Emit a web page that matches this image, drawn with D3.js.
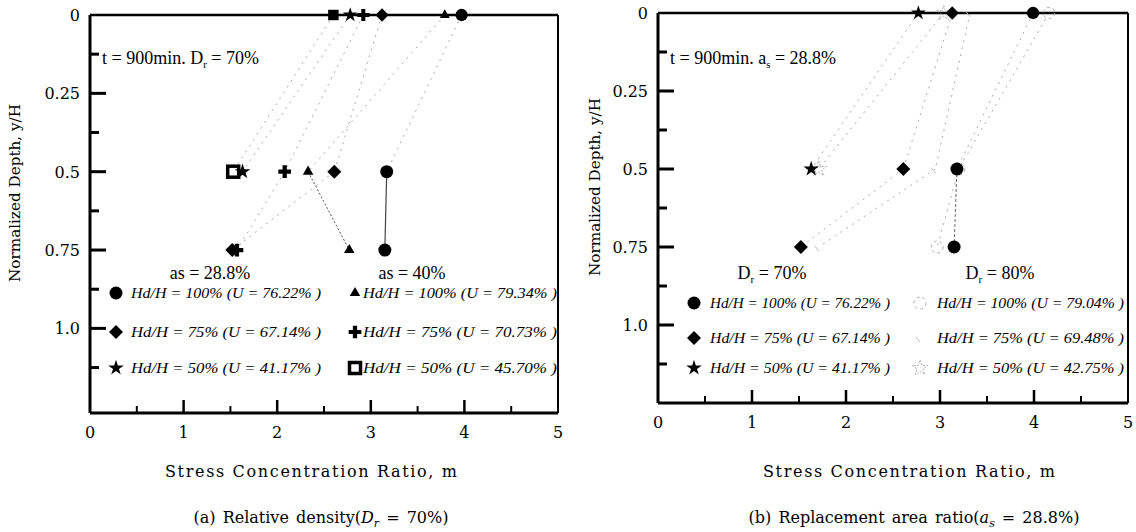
<!DOCTYPE html>
<html><head><meta charset="utf-8">
<script src="https://cdn.jsdelivr.net/npm/d3@7"></script>
<style>
html,body{margin:0;padding:0;background:#fff;}
svg{display:block;}
</style></head>
<body>
<svg id="chart" width="1136" height="532"></svg>
<script>
// ---------- data ----------
const depths = [0, 0.5, 0.75];
const xTicks = [0, 1, 2, 3, 4, 5];
const xMinorTicks = [0.5, 1.5, 2.5, 3.5, 4.5];
const yTicks = [0, 0.25, 0.5, 0.75, 1.0];
const yTickLabels = ["0", "0.25", "0.5", "0.75", "1.0"];
const yMinorTicks = [0.125, 0.375, 0.625, 0.875, 1.125];

// panel (a): Dr = 70%
const aCircle   = [3.97, 3.17, 3.15];   // as=28.8%, Hd/H=100%
const aDiamond  = [3.12, 2.61, 1.52];   // as=28.8%, Hd/H=75%
const aStar     = [2.78, 1.63];         // as=28.8%, Hd/H=50%
const aTriangle = [3.79, 2.33, 2.77];   // as=40%, Hd/H=100%
const aPlus     = [2.92, 2.08, 1.57];   // as=40%, Hd/H=75%
const aSquare   = [2.60, 1.53];         // as=40%, Hd/H=50%

// panel (b): as = 28.8%
const bCircle70  = [3.99, 3.18, 3.15];
const bDiamond70 = [3.13, 2.61, 1.52];
const bStar70    = [2.77, 1.63];
const bCircle80  = [4.16, 3.20, 2.97];
const bDiamond80 = [3.32, 2.95, 1.71];
const bStar80    = [3.04, 1.71];

const aLegend1 = ["Hd/H = 100% (U = 76.22% )", "Hd/H = 75% (U = 67.14% )", "Hd/H = 50% (U = 41.17% )"];
const aLegend2 = ["Hd/H = 100% (U = 79.34% )", "Hd/H = 75% (U = 70.73% )", "Hd/H = 50% (U = 45.70% )"];
const bLegend1 = ["Hd/H = 100% (U = 76.22% )", "Hd/H = 75% (U = 67.14% )", "Hd/H = 50% (U = 41.17% )"];
const bLegend2 = ["Hd/H = 100% (U = 79.04% )", "Hd/H = 75% (U = 69.48% )", "Hd/H = 50% (U = 42.75% )"];

const svg = d3.select("#chart");
const SERIF = "'DejaVu Serif', 'Liberation Serif', serif";
const TIMES = "'Liberation Serif', 'DejaVu Serif', serif";

// ---------- marker drawing ----------
function marker(g, type, x, y, s) {
  s = s || 1;
  if (type === "circle") {
    g.append("circle").attr("cx", x).attr("cy", y).attr("r", 6.5*s).attr("fill", "#000");
  } else if (type === "diamond") {
    const r = 7*s;
    g.append("path").attr("d", `M${x},${y-r}L${x+r},${y}L${x},${y+r}L${x-r},${y}Z`).attr("fill", "#000");
  } else if (type === "star") {
    g.append("path").attr("d", d3.symbol(d3.symbolStar, 75*s*s)()).attr("transform", `translate(${x},${y})`).attr("fill", "#000");
  } else if (type === "triangle") {
    g.append("path").attr("d", d3.symbol(d3.symbolTriangle, 48*s*s)()).attr("transform", `translate(${x},${y})`).attr("fill", "#000");
  } else if (type === "plus") {
    g.append("path").attr("d", d3.symbol(d3.symbolCross, 90*s*s)()).attr("transform", `translate(${x},${y})`).attr("fill", "#000");
  } else if (type === "square") {
    const r = 5.5*s;
    g.append("rect").attr("x", x-r).attr("y", y-r).attr("width", 2*r).attr("height", 2*r).attr("fill", "#fff").attr("stroke", "#000").attr("stroke-width", 3.5*s);
  } else if (type === "squareFilled") {
    const r = 5.5*s;
    g.append("rect").attr("x", x-r).attr("y", y-r).attr("width", 2*r).attr("height", 2*r).attr("fill", "#000");
  } else if (type === "circleOpen") {
    g.append("circle").attr("cx", x).attr("cy", y).attr("r", 6*s).attr("fill", "none").attr("stroke", "#aaa").attr("stroke-width", 1).attr("stroke-dasharray", "3,3");
  } else if (type === "diamondFaint") {
    const r = 4*s;
    g.append("path").attr("d", `M${x-r},${y-r*0.3}L${x},${y+r}`).attr("fill", "none").attr("stroke", "#bbb").attr("stroke-width", 1);
  } else if (type === "starOpen") {
    g.append("path").attr("d", d3.symbol(d3.symbolStar, 75*s*s)()).attr("transform", `translate(${x},${y})`).attr("fill", "none").attr("stroke", "#999").attr("stroke-width", 0.8).attr("stroke-dasharray", "2,1.5");
  }
}

// ---------- panel ----------
function panel(cfg) {
  const x = d3.scaleLinear().domain([0, 5]).range([cfg.left, cfg.right]);
  const y = d3.scaleLinear().domain([0, cfg.ymax]).range([cfg.top, cfg.bottom]);
  const g = svg.append("g");

  // lines
  const line = d3.line().x(d => x(d[0])).y(d => y(d[1]));
  cfg.series.forEach(s => {
    const pts = s.values.map((v, i) => [v, depths[i]]);
    for (let i = 0; i < pts.length - 1; i++) {
      const st = (s.segStyles && s.segStyles[i]) || {c: "#aaa", w: 1, d: "2,5"};
      g.append("path").attr("d", line([pts[i], pts[i+1]]))
        .attr("fill", "none").attr("stroke", st.c).attr("stroke-width", st.w)
        .attr("stroke-dasharray", st.d);
    }
  });

  // frame
  g.append("line").attr("x1", cfg.left).attr("x2", cfg.right).attr("y1", cfg.top).attr("y2", cfg.top).attr("stroke", "#000").attr("stroke-width", 2.5);
  g.append("line").attr("x1", cfg.right).attr("x2", cfg.right).attr("y1", cfg.top).attr("y2", cfg.bottom).attr("stroke", "#000").attr("stroke-width", 2);
  g.append("line").attr("x1", cfg.left).attr("x2", cfg.right).attr("y1", cfg.bottom).attr("y2", cfg.bottom).attr("stroke", "#000").attr("stroke-width", 3);
  g.append("line").attr("x1", cfg.left).attr("x2", cfg.left).attr("y1", cfg.top).attr("y2", cfg.bottom).attr("stroke", "#000").attr("stroke-width", 3);

  // y ticks (inside)
  yTicks.forEach((t, i) => {
    if (t > 0) g.append("line").attr("x1", cfg.left).attr("x2", cfg.left + 16).attr("y1", y(t)).attr("y2", y(t)).attr("stroke", "#000").attr("stroke-width", 3);
    g.append("text").attr("x", cfg.left - 10).attr("y", y(t) + 6).attr("text-anchor", "end").attr("font-size", 16).attr("font-family", SERIF).text(yTickLabels[i]);
  });
  yMinorTicks.forEach(t => {
    g.append("line").attr("x1", cfg.left).attr("x2", cfg.left + 9).attr("y1", y(t)).attr("y2", y(t)).attr("stroke", "#000").attr("stroke-width", 3);
  });
  // x ticks (inside)
  xTicks.forEach(t => {
    if (t > 0 && t < 5) g.append("line").attr("x1", x(t)).attr("x2", x(t)).attr("y1", cfg.bottom).attr("y2", cfg.bottom - 13).attr("stroke", "#000").attr("stroke-width", 2.5);
    g.append("text").attr("x", x(t)).attr("y", cfg.bottom + 25).attr("text-anchor", "middle").attr("font-size", 16).attr("font-family", SERIF).text(t);
  });
  xMinorTicks.forEach(t => {
    g.append("line").attr("x1", x(t)).attr("x2", x(t)).attr("y1", cfg.bottom).attr("y2", cfg.bottom - 7).attr("stroke", "#000").attr("stroke-width", 2);
  });

  // markers
  cfg.series.forEach(s => {
    s.values.forEach((v, i) => marker(g, (i === 0 && s.topType) ? s.topType : s.type, x(v), y(depths[i]), i === 0 ? 0.95 : 1));
  });

  // annotation
  const ann = g.append("text").attr("x", cfg.left + 12).attr("y", 64).attr("font-size", 18).attr("font-family", TIMES);
  cfg.annot(ann);

  // group labels
  g.append("text").attr("x", cfg.grp1x).attr("y", 279).attr("text-anchor", "middle").attr("font-size", 18).attr("font-family", TIMES).call(cfg.grpLabel1);
  g.append("text").attr("x", cfg.grp2x).attr("y", 279).attr("text-anchor", "middle").attr("font-size", 18).attr("font-family", TIMES).call(cfg.grpLabel2);

  // legend
  cfg.legRows.forEach((ry, i) => {
    marker(g, cfg.leg1Types[i], cfg.leg1mx, ry, 1);
    g.append("text").attr("x", cfg.leg1tx).attr("y", ry + 5).attr("font-size", 15).attr("font-style", "italic").attr("font-family", TIMES)
      .attr("textLength", cfg.legW1).attr("lengthAdjust", "spacingAndGlyphs").text(cfg.leg1[i]);
    marker(g, cfg.leg2Types[i], cfg.leg2mx, ry, 1);
    g.append("text").attr("x", cfg.leg2tx).attr("y", ry + 5).attr("font-size", 15).attr("font-style", "italic").attr("font-family", TIMES)
      .attr("textLength", cfg.legW2).attr("lengthAdjust", "spacingAndGlyphs").text(cfg.leg2[i]);
  });

  // axis titles
  g.append("text").attr("x", cfg.titleX).attr("y", 477).attr("text-anchor", "middle").attr("font-size", 16).attr("font-family", SERIF)
    .attr("textLength", 292).attr("lengthAdjust", "spacing").text("Stress Concentration Ratio, m");
  g.append("text").attr("transform", `translate(${cfg.ylabX},${cfg.ylabY}) rotate(-90)`).attr("text-anchor", "middle").attr("font-size", 15).attr("font-family", SERIF)
    .attr("textLength", 178).attr("lengthAdjust", "spacingAndGlyphs").text("Normalized Depth, y/H");
  const cap = g.append("text").attr("x", cfg.capX).attr("y", 523).attr("text-anchor", "middle").attr("font-size", 16).attr("font-family", SERIF)
    .attr("word-spacing", 2);
  cfg.caption(cap);
}

const sub = (sel, txt, italic) => sel.append("tspan").attr("dy", 4).attr("font-size", 11).attr("font-style", italic ? "italic" : null).text(txt);
const after = (sel, txt) => sel.append("tspan").attr("dy", -4).text(txt);

panel({
  left: 90, right: 558, top: 15, bottom: 413, ymax: 1.27,
  series: [
    {type: "square", topType: "squareFilled", values: aSquare},
    {type: "star", values: aStar},
    {type: "plus", values: aPlus},
    {type: "diamond", values: aDiamond},
    {type: "triangle", values: aTriangle, segStyles: [null, {c: "#555", w: 1, d: "2,2"}]},
    {type: "circle", values: aCircle, segStyles: [null, {c: "#444", w: 1.2, d: null}]}
  ],
  annot: t => { t.append("tspan").text("t = 900min.  D"); sub(t, "r"); after(t, " = 70%"); },
  grp1x: 210, grp2x: 412,
  grpLabel1: t => t.text("as = 28.8%"),
  grpLabel2: t => t.text("as = 40%"),
  legRows: [293, 332, 368],
  leg1Types: ["circle", "diamond", "star"], leg2Types: ["triangle", "plus", "square"],
  leg1: aLegend1, leg2: aLegend2,
  leg1mx: 116, leg1tx: 131, legW1: 190, leg2mx: 355, leg2tx: 363, legW2: 194,
  titleX: 311, ylabX: 20, ylabY: 193, capX: 321,
  caption: t => { t.append("tspan").text("(a) Relative density("); t.append("tspan").attr("font-style", "italic").text("D"); sub(t, "r", true); after(t, " = 70%)"); }
});

panel({
  left: 658, right: 1128, top: 13, bottom: 403, ymax: 1.25,
  series: [
    {type: "starOpen", values: bStar80},
    {type: "diamondFaint", values: bDiamond80},
    {type: "circleOpen", values: bCircle80},
    {type: "star", values: bStar70},
    {type: "diamond", values: bDiamond70},
    {type: "circle", values: bCircle70, segStyles: [null, {c: "#666", w: 1, d: "3,2"}]}
  ],
  annot: t => { t.append("tspan").text("t = 900min.  a"); sub(t, "s"); after(t, " = 28.8%"); },
  grp1x: 772, grp2x: 1000,
  grpLabel1: t => { t.append("tspan").text("D"); sub(t, "r"); after(t, " = 70%"); },
  grpLabel2: t => { t.append("tspan").text("D"); sub(t, "r"); after(t, " = 80%"); },
  legRows: [303, 338, 368],
  leg1Types: ["circle", "diamond", "star"], leg2Types: ["circleOpen", "diamondFaint", "starOpen"],
  leg1: bLegend1, leg2: bLegend2,
  leg1mx: 694, leg1tx: 710, legW1: 180, leg2mx: 920, leg2tx: 937, legW2: 187,
  titleX: 909, ylabX: 600, ylabY: 187, capX: 914,
  caption: t => { t.append("tspan").text("(b) Replacement area ratio("); t.append("tspan").attr("font-style", "italic").text("a"); sub(t, "s", true); after(t, " = 28.8%)"); }
});
</script>
</body></html>
